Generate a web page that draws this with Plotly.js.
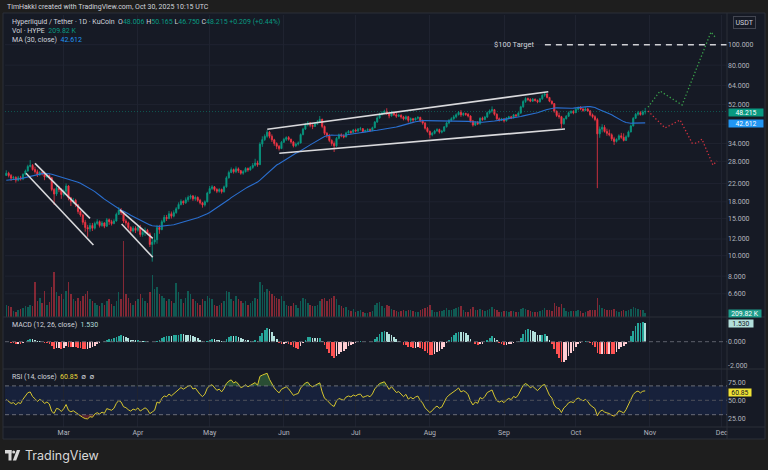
<!DOCTYPE html>
<html>
<head>
<meta charset="utf-8">
<script src="https://cdn.plot.ly/plotly-3.0.1.min.js"></script>
<style>
html,body{margin:0;padding:0;background:#1e1e1e;overflow:hidden;}
#chart{width:768px;height:470px;}
</style>
</head>
<body>
<div id="chart"></div>
<script>
// ================= DATA =================
// Daily candles HYPE/USDT (KuCoin), first candle 2025-02-05, last 2025-10-30.
// Open of each day = previous day's close (continuous 24h market).
// Seed closes (2025-01-06 .. 2025-02-04) only used to warm up MA/MACD/RSI.
const warmupClose = [24.5,23.0,21.5,20.5,21.2,21.0,20.4,19.6,20.8,21.5,21.0,21.6,21.3,20.6,20.0,21.4,22.6,24.0,25.2,25.8,25.0,24.1,24.6,25.3,26.4,25.5,24.8,23.4,22.8,24.0];

const febClose = [24.6,24.0,23.3,23.5,22.8,23.4,23.1,24.3,25.2,26.5,26.8,25.6,25.0,24.2,24.8,24.4,23.6,24.0,23.4,20.6,19.6,20.9,20.6,19.5];
const febHigh  = [25.4,25.0,24.4,23.9,23.8,23.9,23.9,24.6,25.6,27.0,28.4,27.2,26.4,25.6,25.2,25.2,25.0,24.4,24.3,23.6,20.9,21.5,21.4,20.9];
const febLow   = [24.0,23.5,22.6,22.9,22.2,22.5,22.7,22.8,24.0,25.0,26.2,25.3,24.5,23.6,23.9,24.0,22.8,23.4,23.0,20.2,17.4,19.2,20.0,18.6];
const febVol   = [690,620,560,360,300,420,460,520,600,560,700,640,1990,900,1100,820,1500,700,860,1700,2560,1400,1200,1300];

const marClose = [20.2,21.4,18.8,18.0,18.3,17.4,16.2,15.6,14.4,13.6,13.4,13.9,13.5,14.2,14.5,13.9,14.3,13.8,14.8,14.5,14.2,14.6,15.7,16.4,16.0,14.6,14.3,13.6,13.1,13.5,13.2];
const marHigh  = [20.6,22.0,21.6,19.0,18.8,18.6,17.6,16.4,15.8,14.8,14.0,14.3,14.3,14.5,14.9,14.7,14.6,14.4,15.1,15.0,14.8,14.9,16.0,17.0,16.8,16.3,14.9,14.5,13.8,13.8,13.8];
const marLow   = [19.1,19.8,18.3,17.2,17.6,17.0,15.8,15.3,14.0,13.0,12.3,13.0,13.1,13.3,14.0,13.6,13.7,13.5,13.7,14.0,13.9,14.1,14.5,15.6,15.6,14.3,13.9,13.3,12.8,12.9,12.8];
const marVol   = [1000,1500,2000,1300,1000,900,1100,900,1200,1300,1500,1000,900,800,700,650,800,700,900,1000,750,600,900,1400,1000,4330,1300,1100,800,700,900];

const aprClose = [13.6,12.6,12.9,13.2,12.7,11.3,11.6,11.9,13.6,13.3,14.5,15.2,15.0,15.8,15.4,16.0,16.7,17.5,18.1,17.8,18.4,18.9,19.2,18.6,18.9,18.3,17.8,17.4,18.0,19.8];
const aprHigh  = [14.0,14.0,13.3,13.6,13.4,12.9,12.2,12.8,14.0,14.0,14.8,15.6,15.6,16.3,16.2,16.4,17.0,17.9,18.5,18.3,18.9,19.3,19.5,19.4,19.3,19.1,18.6,18.0,18.3,20.1];
const aprLow   = [13.0,12.3,12.3,12.4,12.5,11.0,9.37,11.3,11.4,12.7,13.2,14.3,14.6,14.9,15.0,15.2,15.8,16.6,17.3,17.4,17.6,18.0,18.5,18.2,18.2,18.0,17.5,16.9,17.1,17.9];
const aprVol   = [1000,1300,1100,900,800,1400,2400,1600,1700,1300,1200,1100,900,1000,900,800,1900,1400,1000,800,1100,1500,1300,1000,900,800,700,1000,900,1200];

const mayClose = [20.8,21.2,20.6,20.2,20.6,20.1,21.2,23.4,24.8,25.6,25.0,25.8,25.3,24.6,25.0,25.9,25.5,26.2,26.8,27.5,27.0,33.8,35.5,36.8,38.5,36.8,35.4,34.0,33.0,32.2,34.5];
const mayHigh  = [21.4,21.6,21.4,20.9,20.9,20.8,21.5,23.8,25.3,26.2,25.9,26.5,26.2,25.5,25.4,26.3,26.2,26.6,27.5,28.8,28.2,34.5,36.8,37.6,39.5,39.0,37.6,35.8,34.5,33.5,35.0];
const mayLow   = [19.6,20.5,20.2,19.8,19.9,19.7,19.9,21.0,23.2,24.6,24.5,24.6,24.7,24.2,24.2,24.8,25.0,25.3,25.8,26.5,26.4,27.0,32.8,35.0,36.2,36.0,34.6,33.2,32.0,31.5,32.0];
const mayVol   = [1100,1000,700,600,700,800,900,1500,1400,1000,900,1200,1000,900,800,900,700,800,900,1100,1000,2000,1800,1400,1600,1500,1300,1200,1100,1000,1200];

const junClose = [35.6,36.3,35.6,34.6,33.2,33.8,34.2,37.5,39.8,41.8,42.6,41.5,41.0,42.3,43.0,44.3,41.0,38.0,37.0,35.2,34.0,33.2,36.0,37.4,37.0,36.5,38.2,38.8,38.4,39.4];
const junHigh  = [36.2,36.8,36.9,35.9,35.0,34.4,34.8,38.0,40.4,42.6,43.4,43.0,42.0,42.8,44.0,45.9,44.6,41.4,38.6,37.8,35.6,34.8,36.5,37.9,38.0,37.6,38.7,39.4,39.2,39.9];
const junLow   = [34.2,35.0,35.1,34.0,32.6,32.7,33.3,34.0,37.2,39.5,41.0,40.6,39.8,40.8,41.6,42.6,40.2,37.3,36.2,34.5,33.2,31.0,32.8,35.6,36.4,36.0,36.4,37.9,37.8,38.2];
const junVol   = [900,700,650,600,800,700,500,900,1100,1000,800,700,650,600,700,900,1000,1100,900,1000,1100,1200,1000,700,600,500,550,400,350,450];

const julClose = [39.0,39.8,40.0,38.8,39.2,39.6,39.2,40.4,43.0,45.0,46.8,47.5,48.3,47.2,46.0,47.8,46.6,45.8,46.3,45.4,44.5,45.6,43.8,44.6,44.0,44.8,45.2,43.6,42.5,40.2,38.8];
const julHigh  = [40.0,40.3,40.8,40.3,39.6,40.2,40.1,40.9,43.5,45.8,47.6,48.4,49.2,50.0,47.8,48.6,48.2,48.0,46.9,46.8,46.0,46.2,46.0,45.2,45.0,45.3,45.9,45.6,44.2,43.0,40.8];
const julLow   = [38.4,38.5,39.2,38.3,38.4,38.9,38.6,38.9,40.2,42.6,44.6,46.2,47.0,46.5,44.8,45.6,45.9,45.0,45.4,44.6,43.8,43.9,42.8,42.6,42.9,43.6,44.2,42.9,41.8,39.6,38.3];
const julVol   = [300,350,400,300,250,230,280,350,700,800,850,650,500,700,600,450,400,350,300,320,380,350,420,380,330,280,300,380,450,500,550];

const augClose = [37.4,38.0,39.0,39.6,38.5,38.9,40.8,42.6,43.8,44.6,45.5,46.6,47.8,46.5,47.2,46.8,45.9,43.5,41.6,42.8,42.2,44.8,44.2,45.4,47.6,48.6,49.2,46.8,44.6,43.9,44.5];
const augHigh  = [39.2,38.6,39.5,40.2,40.0,39.5,41.2,43.2,44.4,45.3,46.4,47.3,48.5,49.0,47.8,47.6,47.4,46.3,44.0,43.4,43.5,45.3,45.6,46.0,48.2,49.4,51.0,49.6,47.3,45.2,45.0];
const augLow   = [36.0,36.8,37.6,38.7,37.9,38.0,38.8,40.5,42.0,43.2,44.0,44.8,46.2,45.5,45.8,46.0,45.2,42.8,40.9,41.2,41.6,41.8,43.6,43.8,44.9,46.8,47.6,46.1,43.9,43.2,43.5];
const augVol   = [700,400,300,280,350,320,400,500,420,380,450,500,550,600,400,300,280,450,550,400,380,450,380,350,400,450,550,450,400,300,280];

const sepClose = [43.6,44.8,45.5,45.0,46.5,46.0,47.4,50.8,53.8,55.6,55.0,54.0,55.2,54.4,53.6,55.4,57.6,58.4,56.2,54.0,52.6,48.4,46.2,45.6,42.2,44.6,45.8,47.6,48.2,47.6];
const sepHigh  = [44.9,45.4,46.0,46.0,47.0,46.8,47.9,51.4,54.6,56.4,56.2,55.8,55.9,55.6,55.0,56.0,58.2,59.7,58.8,56.6,54.4,52.8,48.8,47.6,46.0,45.0,46.4,48.2,48.9,49.0];
const sepLow   = [42.8,43.2,44.3,44.4,44.8,45.5,45.8,47.0,50.2,53.0,54.0,53.4,53.6,53.8,52.8,53.2,54.8,56.6,55.6,53.4,52.0,47.6,45.4,44.6,40.3,41.8,44.2,45.4,47.0,46.8];
const sepVol   = [350,320,300,330,350,260,280,450,500,450,380,330,300,280,300,350,420,500,420,380,350,800,600,550,750,500,350,300,350,330];

const octClose = [49.5,50.4,49.6,48.8,49.6,48.5,46.5,45.6,44.2,37.8,39.8,40.6,38.8,38.0,37.4,35.8,34.8,35.6,37.0,36.4,35.2,36.6,38.6,41.2,44.8,46.8,47.6,46.7,48.006,48.215];
const octHigh  = [50.2,51.0,51.2,50.0,50.6,50.2,49.0,47.2,46.3,45.0,41.0,42.0,41.6,40.0,39.6,38.0,36.6,36.0,37.6,38.2,38.0,37.2,39.2,41.8,45.4,47.5,48.6,48.4,48.9,50.165];
const octLow   = [47.4,48.8,48.9,48.1,48.4,48.0,45.8,44.8,43.4,20.9,36.2,38.4,38.3,37.0,36.8,35.0,33.5,34.4,35.2,35.8,34.8,35.0,36.4,38.4,41.0,44.5,46.0,46.1,46.2,46.75];
const octVol   = [350,380,320,250,280,350,400,380,420,1050,700,500,450,380,420,380,450,350,300,330,380,350,400,480,570,500,450,400,380,209.82];

// Drawn objects (date, price)
const channel1Upper = {x:['2025-02-17','2025-03-12'], y:[27.4,15.04]};
const channel1Lower = {x:['2025-02-13 06:00','2025-03-13 10:00'], y:[24.6,11.24]};
const channel2Upper = {x:['2025-03-24 12:00','2025-04-07 05:00'], y:[16.47,12.09]};
const channel2Lower = {x:['2025-03-25 05:00','2025-04-07 05:00'], y:[14.13,9.83]};
const channel3Upper = {x:['2025-05-25 02:00','2025-09-19 12:00'], y:[39.72,59.88]};
const channel3Lower = {x:['2025-05-30 02:00','2025-09-26 12:00'], y:[30.57,39.86]};
const bullPath = {x:['2025-10-31 04:00','2025-11-05 05:00','2025-11-14 10:00','2025-11-26 12:00','2025-11-28 05:00'], y:[50.6,60.3,51.8,114.9,108.8]};
const bearPath = {x:['2025-10-31 04:00','2025-11-07 07:00','2025-11-13 14:00','2025-11-18 14:00','2025-11-20 17:00','2025-11-22 17:00','2025-11-27 07:00','2025-11-29 00:00'], y:[48.5,40.3,44.0,34.2,34.2,35.7,26.9,28.1]};
const targetLine = {x:['2025-09-18 02:00','2025-12-03 04:00'], y:[100,100]};

// price scale: every level has a grid line; the 42.000 label is hidden behind the MA tag in the picture
const priceGrid = [100,80,64,52,42,34,28,22,18,15,12,10,8,6.6];
const priceTicks = [100,80,64,52,34,28,22,18,15,12,10,8,6.6];
const priceTickText = ['100.000','80.000','64.000','52.000','34.000','28.000','22.000','18.000','15.000','12.000','10.000','8.000','6.600'];
const monthTicks = ['2025-03-01','2025-04-01','2025-05-01','2025-06-01','2025-07-01','2025-08-01','2025-09-01','2025-10-01','2025-11-01','2025-12-01'];
const monthLabels = ['Mar','Apr','May','Jun','Jul','Aug','Sep','Oct','Nov','Dec'];

const lastOHLC = {o:'48.006', h:'50.165', l:'46.750', c:'48.215', chg:'+0.209 (+0.44%)'};
const lastVolText = '209.82 K';
const lastMAText = '42.612';
const lastMACDText = '1.530';
const lastRSIText = '60.85';

// ================= BUILD =================
const close  = [].concat(febClose,marClose,aprClose,mayClose,junClose,julClose,augClose,sepClose,octClose);
const high   = [].concat(febHigh,marHigh,aprHigh,mayHigh,junHigh,julHigh,augHigh,sepHigh,octHigh);
const low    = [].concat(febLow,marLow,aprLow,mayLow,junLow,julLow,augLow,sepLow,octLow);
const volume = [].concat(febVol,marVol,aprVol,mayVol,junVol,julVol,augVol,sepVol,octVol);
const DAY = 86400000;
const t0 = Date.UTC(2025,1,5);
const dates = close.map((_,i)=>new Date(t0+i*DAY).toISOString().slice(0,10));
const open = close.map((c,i)=> i===0 ? warmupClose[warmupClose.length-1] : close[i-1]);

// indicators (definitions from the chart legend)
const series = warmupClose.concat(close);
const W0 = warmupClose.length;
const ma30 = close.map((_,i)=>{let s=0;for(let k=W0+i-29;k<=W0+i;k++)s+=series[k];return s/30;});
function ema(arr,n){const a=2/(n+1);const o=[arr[0]];for(let i=1;i<arr.length;i++)o.push(a*arr[i]+(1-a)*o[i-1]);return o;}
const e12=ema(series,12), e26=ema(series,26);
const macd=series.map((_,i)=>e12[i]-e26[i]);
const sig=ema(macd,9);
const histAll=macd.map((m,i)=>m-sig[i]);
const hist=histAll.slice(W0);
const histColor=hist.map((h,i)=>{const p=histAll[W0+i-1];
  if(h>=0) return p<h?'#26a69a':'#b2dfdb';
  return p<h?'#ffcdd2':'#ff5252';});
function rsiCalc(arr,n){const out=new Array(arr.length).fill(null);let up=0,dn=0;
  for(let i=1;i<arr.length;i++){const ch=arr[i]-arr[i-1];const u=Math.max(ch,0),d=Math.max(-ch,0);
    if(i<=n){up+=u/n;dn+=d/n;}else{up=(up*(n-1)+u)/n;dn=(dn*(n-1)+d)/n;}
    if(i>=n) out[i]= dn===0?100:100-100/(1+up/dn);}
  return out;}
const rsi=rsiCalc(series,14).slice(W0);

const volColor=close.map((c,i)=>c>=open[i]?'rgba(8,153,129,0.5)':'rgba(242,54,69,0.5)');

// ================= GEOMETRY =================
const PL=5, PR=727, PT=15, PB=427;
const px=x=>(x-PL)/(PR-PL);
const py=y=>(PB-y)/(PB-PT);
const priceY=p=>44.7+(2-Math.log10(p))*211;

const xStart='2025-02-04 11:17', xEnd='2025-12-03 04:20';
const UP='#089981', DN='#f23645';

const traces=[];
traces.push({type:'bar',x:dates,y:volume,yaxis:'y2',marker:{color:volColor,line:{width:0}},width:DAY*0.62,hoverinfo:'skip'});
traces.push({type:'candlestick',x:dates,open:open,high:high,low:low,close:close,yaxis:'y',
  increasing:{line:{color:UP,width:0.8},fillcolor:UP},decreasing:{line:{color:DN,width:0.8},fillcolor:DN},
  whiskerwidth:0,hoverinfo:'skip'});
traces.push({type:'scatter',mode:'lines',x:dates,y:ma30,yaxis:'y',line:{color:'#2a6fd0',width:1.1},hoverinfo:'skip'});
traces.push({type:'scatter',mode:'lines',x:[xStart,xEnd],y:[48.215,48.215],yaxis:'y',line:{color:'rgba(8,153,129,0.6)',width:0.8,dash:'1px,2px'},hoverinfo:'skip'});
[channel1Upper,channel1Lower,channel2Upper,channel2Lower,channel3Upper,channel3Lower].forEach(c=>{
  traces.push({type:'scatter',mode:'lines',x:c.x,y:c.y,yaxis:'y',line:{color:'#d9d9dc',width:1.6},hoverinfo:'skip'});
});
traces.push({type:'scatter',mode:'lines',x:bullPath.x,y:bullPath.y,yaxis:'y',line:{color:'#3aa14b',width:1.3,dash:'1.3px,2.2px'},hoverinfo:'skip'});
traces.push({type:'scatter',mode:'lines',x:bearPath.x,y:bearPath.y,yaxis:'y',line:{color:'#d2323f',width:1.3,dash:'1.3px,2.2px'},hoverinfo:'skip'});
traces.push({type:'scatter',mode:'lines',x:targetLine.x,y:targetLine.y,yaxis:'y',line:{color:'#cfd0d4',width:1.6,dash:'6px,5px'},hoverinfo:'skip'});
// MACD histogram
traces.push({type:'bar',x:dates,y:hist,yaxis:'y3',marker:{color:histColor,line:{width:0}},width:DAY*0.7,hoverinfo:'skip'});
// RSI fills
traces.push({type:'scatter',mode:'lines',x:dates,y:dates.map(()=>70),yaxis:'y4',line:{width:0},hoverinfo:'skip'});
traces.push({type:'scatter',mode:'lines',x:dates,y:rsi.map(v=>Math.max(v,70)),yaxis:'y4',line:{width:0},fill:'tonexty',fillcolor:'rgba(76,175,80,0.35)',hoverinfo:'skip'});
traces.push({type:'scatter',mode:'lines',x:dates,y:dates.map(()=>30),yaxis:'y4',line:{width:0},hoverinfo:'skip'});
traces.push({type:'scatter',mode:'lines',x:dates,y:rsi.map(v=>Math.min(v,30)),yaxis:'y4',line:{width:0},fill:'tonexty',fillcolor:'rgba(242,54,69,0.3)',hoverinfo:'skip'});
traces.push({type:'scatter',mode:'lines',x:dates,y:rsi,yaxis:'y4',line:{color:'#d6c62e',width:1},hoverinfo:'skip'});

const GRID='#1f2330', SEP='#2a2e39', TXT='#b2b5be';
const shapes=[
  {type:'rect',xref:'paper',yref:'paper',x0:px(3),x1:px(765),y0:py(439),y1:py(13),fillcolor:'#161a25',line:{color:SEP,width:1},layer:'below'},
  {type:'rect',xref:'paper',yref:'y4',x0:0,x1:1,y0:30,y1:70,fillcolor:'rgba(41,98,255,0.10)',line:{width:0},layer:'below'},
  {type:'line',xref:'paper',yref:'paper',x0:px(3),x1:px(765),y0:py(317),y1:py(317),line:{color:SEP,width:1}},
  {type:'line',xref:'paper',yref:'paper',x0:px(3),x1:px(765),y0:py(369),y1:py(369),line:{color:SEP,width:1}},
  {type:'line',xref:'paper',yref:'paper',x0:px(3),x1:px(765),y0:py(427),y1:py(427),line:{color:SEP,width:1}},
  {type:'line',xref:'paper',yref:'paper',x0:1,x1:1,y0:py(439),y1:py(13),line:{color:SEP,width:1}},
  {type:'line',xref:'paper',yref:'y3',x0:0,x1:1,y0:0,y1:0,line:{color:'#5d606b',width:1,dash:'4px,3px'}},
  {type:'line',xref:'paper',yref:'y4',x0:0,x1:1,y0:70,y1:70,line:{color:'#6a6d78',width:1,dash:'4px,3px'}},
  {type:'line',xref:'paper',yref:'y4',x0:0,x1:1,y0:50,y1:50,line:{color:'#4e515c',width:1,dash:'4px,3px'}},
  {type:'line',xref:'paper',yref:'y4',x0:0,x1:1,y0:30,y1:30,line:{color:'#6a6d78',width:1,dash:'4px,3px'}},
  // TradingView logo glyph
  {type:'rect',xref:'paper',yref:'paper',x0:px(5),x1:px(11.5),y0:py(453.5),y1:py(450),fillcolor:'#d9d9d9',line:{width:0}},
  {type:'rect',xref:'paper',yref:'paper',x0:px(8.5),x1:px(11.5),y0:py(460.5),y1:py(450),fillcolor:'#d9d9d9',line:{width:0}},
  {type:'circle',xref:'paper',yref:'paper',x0:px(12.2),x1:px(15.2),y0:py(453.5),y1:py(450.5),fillcolor:'#d9d9d9',line:{width:0}},
  {type:'path',xref:'paper',yref:'paper',path:`M${px(16.8)},${py(450)} L${px(20.2)},${py(450)} L${px(16.2)},${py(460.5)} L${px(12.8)},${py(460.5)} Z`,fillcolor:'#d9d9d9',line:{width:0}}
];
// price grid lines (drawn for every scale level, including the hidden 42.000)
priceGrid.forEach(p=>shapes.push({type:'line',xref:'paper',yref:'paper',x0:0,x1:1,y0:py(priceY(p)),y1:py(priceY(p)),line:{color:GRID,width:1},layer:'below'}));

function txt(text,x,y,opt){return Object.assign({xref:'paper',yref:'paper',x:px(x),y:py(y),text:text,showarrow:false,xanchor:'left',yanchor:'middle',font:{size:7,color:'#d1d4dc',family:'Roboto, Inter, sans-serif'}},opt||{});}
function tag(text,y,bg,fg,w){return {xref:'paper',yref:'paper',x:px(727.5),y:py(y),text:text,showarrow:false,xanchor:'left',yanchor:'middle',
  bgcolor:bg,width:w,height:7,align:'center',borderpad:0,font:{size:6.8,color:fg,family:'Roboto, Inter, sans-serif'}};}
const g=s=>`<span style="color:${UP}">${s}</span>`;
const annotations=[
  txt('TimHakki created with TradingView.com, Oct 30, 2025 10:15 UTC',5,7.3),
  txt(`Hyperliquid / Tether · 1D · KuCoin  O${g(lastOHLC.o)} H${g(lastOHLC.h)} L${g(lastOHLC.l)} C${g(lastOHLC.c)} ${g(lastOHLC.chg)}`,10,22.3),
  txt(`Vol · HYPE  ${g(lastVolText)}`,10,31),
  txt(`MA (30, close)  <span style="color:#2196f3">${lastMAText}</span>`,10,39.7),
  txt(`MACD (12, 26, close)  <span style="color:#b2dfdb">${lastMACDText}</span>`,10,325.3),
  txt(`RSI (14, close)  <span style="color:#e6d53a">${lastRSIText}</span>  ∅  ∅`,10,377.3),
  txt('$100 Target',491.5,44.5,{font:{size:7.5,color:'#d1d4dc',family:'Roboto, Inter, sans-serif'}}),
  {xref:'paper',yref:'paper',x:px(744),y:py(22.5),text:'USDT',showarrow:false,xanchor:'center',yanchor:'middle',bordercolor:'#434651',borderwidth:1,borderpad:1.5,font:{size:7,color:'#d1d4dc',family:'Roboto, Inter, sans-serif'}},
  tag(lastOHLC.c,priceY(48.215)+0.6,UP,'#ffffff',34),
  tag(lastMAText,priceY(42.612)+0.3,'#2196f3','#ffffff',34),
  tag(lastVolText,313.3,'#1e9c8b','#ffffff',32),
  tag(lastMACDText,341.7-1.53*12,'#b2dfdb','#131722',24),
  tag(lastRSIText,400.3-(60.85-50)*0.72,'#f1e335','#131722',22),
  txt('TradingView',23,455.5,{font:{size:12.5,color:'#d9d9d9',family:'Inter, Roboto, sans-serif'}})
];

const axFont={size:7,color:TXT,family:'Roboto, Inter, sans-serif'};
const layout={
  width:768,height:470,margin:{l:PL,r:768-PR,t:PT,b:470-PB},
  paper_bgcolor:'#1e1e1e',plot_bgcolor:'rgba(0,0,0,0)',
  showlegend:false,hovermode:false,dragmode:false,bargap:0,
  xaxis:{type:'date',range:[xStart,xEnd],anchor:'y4',tickmode:'array',tickvals:monthTicks,ticktext:monthLabels,
    showgrid:true,gridcolor:GRID,gridwidth:1,zeroline:false,showline:false,ticks:'',tickfont:axFont,
    rangeslider:{visible:false},fixedrange:true},
  yaxis:{domain:[py(317),1],type:'log',range:[0.7095,2.1408],side:'right',anchor:'x',tickmode:'array',
    tickvals:priceTicks,ticktext:priceTickText,showgrid:false,zeroline:false,showline:false,ticks:'',tickfont:axFont,fixedrange:true},
  yaxis2:{overlaying:'y',anchor:'x',side:'right',range:[0,302*56.7],visible:false,showgrid:false,fixedrange:true},
  yaxis3:{domain:[py(369),py(317)],range:[-2.275,2.058],side:'right',anchor:'x',tickmode:'array',tickvals:[0,-2],ticktext:['0.000','-2.000'],
    showgrid:false,zeroline:false,showline:false,ticks:'',tickfont:axFont,fixedrange:true},
  yaxis4:{domain:[0,py(369)],range:[12.92,93.47],side:'right',anchor:'x',tickmode:'array',tickvals:[75,50,25],ticktext:['75.00','50.00','25.00'],
    showgrid:false,zeroline:false,showline:false,ticks:'',tickfont:axFont,fixedrange:true},
  shapes:shapes,annotations:annotations
};
Plotly.newPlot('chart',traces,layout,{staticPlot:true,displayModeBar:false});
</script>
</body>
</html>
